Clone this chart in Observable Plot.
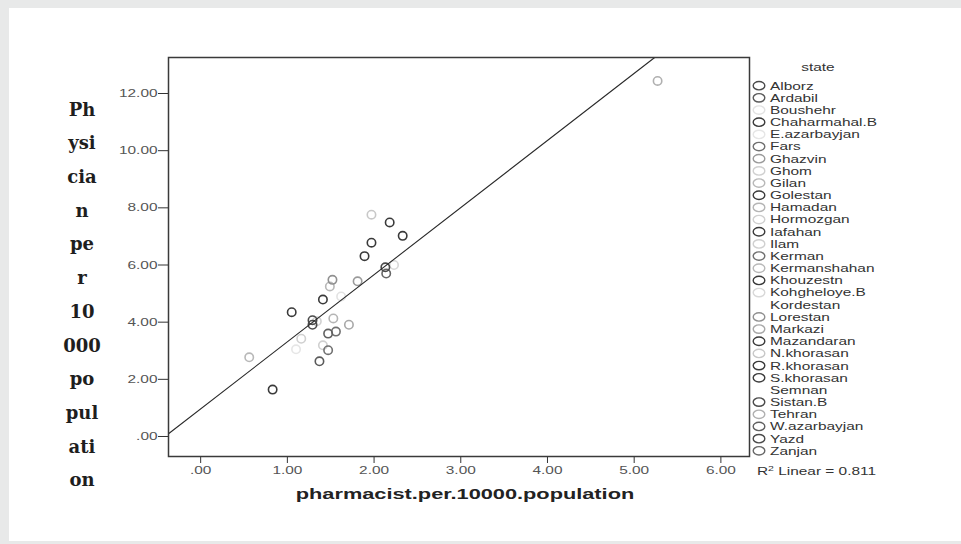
<!DOCTYPE html>
<html><head><meta charset="utf-8">
<script src="https://cdn.jsdelivr.net/npm/d3@7"></script>
<script src="https://cdn.jsdelivr.net/npm/@observablehq/plot@0.6"></script>
<style>
html,body{margin:0;padding:0}
body{width:961px;height:544px;overflow:hidden;position:relative;background:#e8e9e9}
#page{position:absolute;left:9px;top:8px;right:0;bottom:3px;background:#fff}
#chart,#overlay{position:absolute;left:0;top:0}
</style></head><body>
<div id="page"></div>
<div id="chart"></div>
<svg id="overlay" width="961" height="544"></svg>
<script>
// ---- data ----
const states = ["Alborz","Ardabil","Boushehr","Chaharmahal.B","E.azarbayjan","Fars","Ghazvin","Ghom","Gilan","Golestan","Hamadan","Hormozgan","Iafahan","Ilam","Kerman","Kermanshahan","Khouzestn","Kohgheloye.B","Kordestan","Lorestan","Markazi","Mazandaran","N.khorasan","R.khorasan","S.khorasan","Semnan","Sistan.B","Tehran","W.azarbayjan","Yazd","Zanjan"];
const pharmacist = [2.13,1.37,1.62,2.18,1.10,1.47,1.81,1.34,0.56,2.33,1.53,1.16,1.97,1.41,1.56,1.49,1.89,2.23,1.75,1.52,1.71,1.41,1.97,1.05,0.83,2.60,1.29,5.27,1.47,1.29,2.14];
const physician  = [5.92,2.63,4.90,7.49,3.05,3.02,5.43,4.03,2.77,7.02,4.13,3.42,6.78,3.19,3.67,5.25,6.31,6.00,4.55,5.48,3.91,4.79,7.76,4.35,1.64,5.20,4.07,12.44,3.60,3.91,5.70];
const stateShades = ["#4a4a4a","#5a5a5a","#e2e2e2","#3a3a3a","#e6e6e6","#707070","#9a9a9a","#d0d0d0","#b8b8b8","#3a3a3a","#b5b5b5","#d0d0d0","#3a3a3a","#d0d0d0","#707070","#b8b8b8","#3a3a3a","#d8d8d8","#ffffff","#909090","#a8a8a8","#3a3a3a","#c8c8c8","#3a3a3a","#3a3a3a","#ffffff","#4a4a4a","#b0b0b0","#606060","#4a4a4a","#666666"];
const xTicks = [0,1,2,3,4,5,6];
const yTicks = [0,2,4,6,8,10,12];
const fitIntercept = 0.965, fitSlope = 2.348, rSquared = 0.811;
const yTitleLines = ["Ph","ysi","cia","n","pe","r","10","000","po","pul","ati","on"];
const xTitle = "pharmacist.per.10000.population";
const legendTitle = "state";

// ---- chart ----
const xDomain = [-0.371, 6.33], yDomain = [-0.70, 13.26];
const fmt = d => d === 0 ? ".00" : d3.format(".2f")(d);
const table = states.map((s, i) => ({state: s, x: pharmacist[i], y: physician[i], shade: stateShades[i]}));
const drawOrder = d3.sort(table, d => -d3.hsl(d.shade).l);
const xEnd = (yDomain[1] - fitIntercept) / fitSlope;
const fitLine = [xDomain[0], xEnd].map(x => ({x, y: fitIntercept + fitSlope * x}));

const chart = Plot.plot({
  width: 961, height: 544,
  marginLeft: 168, marginRight: 212, marginTop: 57, marginBottom: 88,
  style: {background: "transparent", fontFamily: "'Liberation Sans', Arial, sans-serif", fontSize: "11px", color: "#333"},
  x: {domain: xDomain, ticks: xTicks, tickFormat: fmt, tickSize: 7, tickPadding: 3, label: null},
  y: {domain: yDomain, ticks: yTicks, tickFormat: fmt, tickSize: 10, tickPadding: 1, label: null},
  color: {type: "ordinal", domain: states, range: stateShades},
  marks: [
    Plot.dot(drawOrder, {x: "x", y: "y", stroke: "state", r: 4.2, strokeWidth: 1.6}),
    Plot.line(fitLine, {x: "x", y: "y", stroke: "#2a2a2a", strokeWidth: 1.1}),
    Plot.frame({stroke: "#3a3a3a", strokeWidth: 1.5})
  ]
});
document.getElementById("chart").appendChild(chart);
const stretch = (t, k) => {
  const w = t.getComputedTextLength();
  t.setAttribute("textLength", w * k);
  t.setAttribute("lengthAdjust", "spacingAndGlyphs");
};
chart.querySelectorAll("text").forEach(t => { t.setAttribute("fill", "#555"); stretch(t, 1.4); });

// ---- overlay: axis titles and legend ----
const ov = d3.select("#overlay");
ov.append("g").selectAll("text").data(yTitleLines).join("text")
  .attr("x", 82).attr("y", (d, i) => 115.6 + i * 33.7)
  .attr("text-anchor", "middle")
  .attr("font-family", "'DejaVu Serif', serif").attr("font-weight", "bold").attr("font-size", 18)
  .attr("fill", "#1e1e1e").text(d => d);

const xt = ov.append("text").attr("x", 465).attr("y", 499).attr("text-anchor", "middle")
  .attr("font-family", "'Liberation Sans', Arial, sans-serif").attr("font-weight", "bold").attr("font-size", 15)
  .attr("fill", "#222").text(xTitle);
stretch(xt.node(), 1.45);

const lt = ov.append("text").attr("x", 818).attr("y", 70.6).attr("text-anchor", "middle")
  .attr("font-family", "'Liberation Sans', Arial, sans-serif").attr("font-size", 11).attr("fill", "#333").text(legendTitle);
stretch(lt.node(), 1.4);

const color = chart.scale("color");
const items = ov.append("g").selectAll("g").data(states).join("g")
  .attr("transform", (d, i) => `translate(0,${85.7 + i * 12.17})`);
items.append("ellipse").attr("cx", 759).attr("cy", 0).attr("rx", 5.8).attr("ry", 4.2)
  .attr("fill", "none").attr("stroke", d => color.apply(d)).attr("stroke-width", 1.4);
items.append("text").attr("x", 770).attr("y", 3.9)
  .attr("font-family", "'Liberation Sans', Arial, sans-serif").attr("font-size", 11).attr("fill", "#333")
  .text(d => d).each(function() { stretch(this, 1.4); });

const r2 = ov.append("text").attr("x", 757).attr("y", 475)
  .attr("font-family", "'Liberation Sans', Arial, sans-serif").attr("font-size", 11).attr("fill", "#333");
r2.append("tspan").text("R");
r2.append("tspan").attr("font-size", 7.5).attr("dy", -4).text("2");
r2.append("tspan").attr("dy", 4).text(` Linear = ${rSquared}`);
stretch(r2.node(), 1.4);
</script>
</body></html>
